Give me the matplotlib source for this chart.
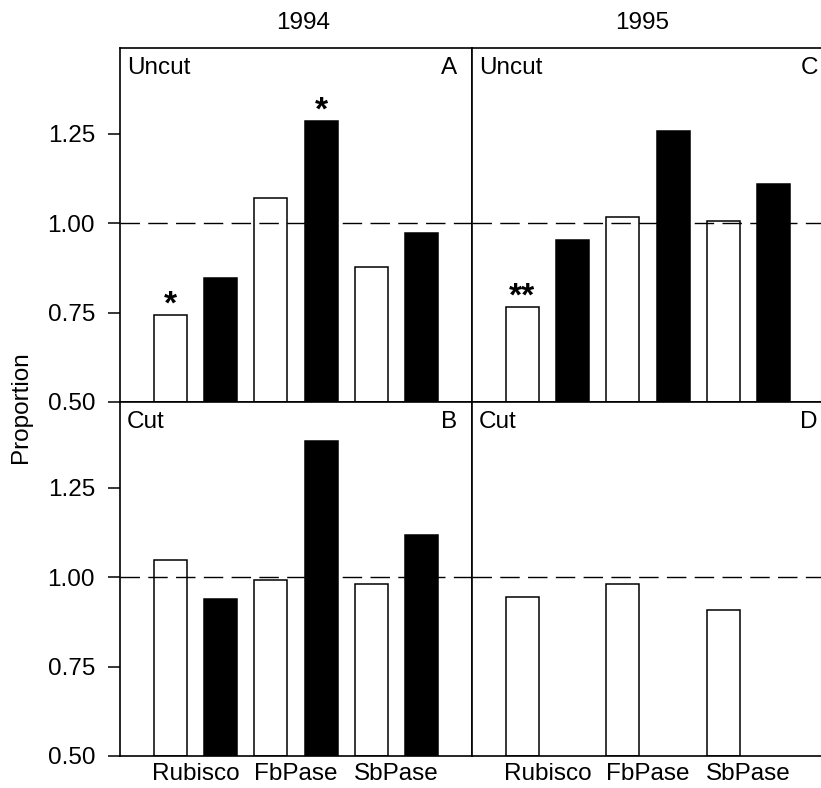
import matplotlib
matplotlib.use("Agg")
import matplotlib.pyplot as plt

plt.rcParams['font.family'] = ['Liberation Sans', 'DejaVu Sans']

categories = ["Rubisco", "FbPase", "SbPase"]
years = ["1994", "1995"]

# panel A: 1994 uncut
a_white = [0.743, 1.071, 0.878]
a_black = [0.846, 1.287, 0.974]
# panel B: 1994 cut
b_white = [1.048, 0.993, 0.980]
b_black = [0.939, 1.381, 1.119]
# panel C: 1995 uncut
c_white = [0.767, 1.017, 1.006]
c_black = [0.952, 1.258, 1.109]
# panel D: 1995 cut
d_white = [0.945, 0.980, 0.908]
d_black = []

yticks = [0.50, 0.75, 1.00, 1.25]
ytick_labels = ["0.50", "0.75", "1.00", "1.25"]

# significance marks: (panel, series, category index, text)
stars = [("A", "white", 0, "*"), ("A", "black", 1, "*"), ("C", "white", 0, "**")]

W, H = 821, 788
fig = plt.figure(figsize=(W / 100, H / 100), dpi=100)

def frac_rect(x0, y0, x1, y1):
    return [x0 / W, 1 - y1 / H, (x1 - x0) / W, (y1 - y0) / H]

rects = {
    "A": frac_rect(120, 48, 472, 402),
    "C": frac_rect(472, 48, 824, 402),
    "B": frac_rect(120, 402, 472, 756),
    "D": frac_rect(472, 402, 824, 756),
}
data = {"A": (a_white, a_black), "B": (b_white, b_black),
        "C": (c_white, c_black), "D": (d_white, d_black)}
cond = {"A": "Uncut", "B": "Cut", "C": "Uncut", "D": "Cut"}

FS = 17.5
axes = {}
for key in ["A", "B", "C", "D"]:
    ax = fig.add_axes(rects[key])
    axes[key] = ax
    white, black = data[key]
    xw = [2 * i + 1 for i in range(len(white))]
    xb = [2 * i + 2 for i in range(len(black))]
    ax.bar(xw, [v - 0.5 for v in white], bottom=0.5, width=0.66,
           color="white", edgecolor="black", linewidth=1.1, zorder=2)
    if black:
        ax.bar(xb, [v - 0.5 for v in black], bottom=0.5, width=0.66,
               color="black", edgecolor="black", linewidth=1.1, zorder=2)
    ax.axhline(1.0, color="black", lw=1.0, ls=(0, (14, 6)), zorder=3)
    ax.set_xlim(0, 7)
    ax.set_ylim(0.5, 1.49)
    for s in ax.spines.values():
        s.set_linewidth(1.2)
    if key in ("C", "D"):
        ax.spines["right"].set_visible(False)
    if key in ("A", "B"):
        ax.set_yticks(yticks)
        ax.set_yticklabels(ytick_labels, fontsize=FS)
        ax.tick_params(axis="y", direction="out", length=9, width=1.1, pad=9)
    else:
        ax.set_yticks([])
    if key in ("B", "D"):
        ax.set_xticks([1.5, 3.5, 5.5])
        ax.set_xticklabels(categories, fontsize=FS)
        ax.tick_params(axis="x", length=0, pad=5)
    else:
        ax.set_xticks([])
    ax.annotate(cond[key], xy=(0, 1), xycoords="axes fraction",
                xytext=(5, -14.5), textcoords="offset points",
                ha="left", va="center", fontsize=FS)
    rx = -10.5 if key in ("A", "B") else -4.5
    ax.annotate(key, xy=(1, 1), xycoords="axes fraction",
                xytext=(rx, -14.5), textcoords="offset points",
                ha="right", va="center", fontsize=FS)

for key, series, idx, txt in stars:
    white, black = data[key]
    vals = white if series == "white" else black
    x = 2 * idx + 1 if series == "white" else 2 * idx + 2
    axes[key].annotate(txt, xy=(x, vals[idx]), xycoords="data",
                       xytext=(0, -4), textcoords="offset points",
                       ha="center", va="bottom", fontsize=24, fontweight="bold")

fig.text(303 / W, 1 - 23 / H, years[0], ha="center", va="center", fontsize=FS)
fig.text(642 / W, 1 - 23 / H, years[1], ha="center", va="center", fontsize=FS)
fig.text(21 / W, 1 - 407 / H, "Proportion", ha="center", va="center",
         rotation=90, fontsize=FS)

fig.savefig("out.png", dpi=100)
